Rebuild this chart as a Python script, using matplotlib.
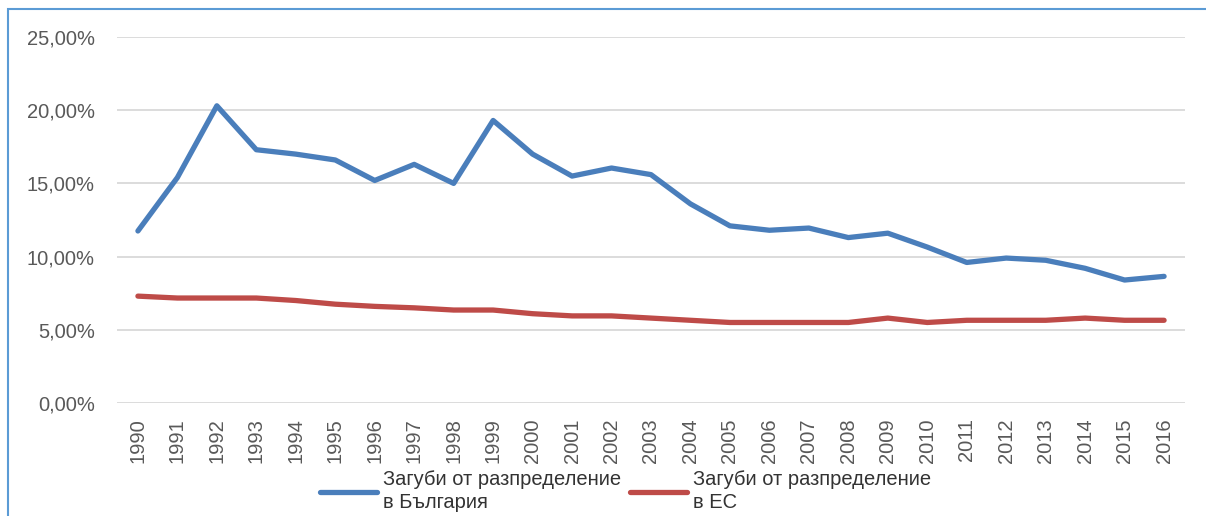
import matplotlib
matplotlib.use("Agg")
import matplotlib.pyplot as plt
from matplotlib.ticker import FuncFormatter
from matplotlib.patches import Rectangle

years = [str(y) for y in range(1990, 2017)]
bulgaria = [11.75, 15.4, 20.3, 17.3, 17.0, 16.6, 15.2, 16.3, 15.0, 19.3, 17.0, 15.5, 16.05,
            15.6, 13.6, 12.1, 11.8, 11.95, 11.3, 11.6, 10.65, 9.6, 9.9, 9.75, 9.2, 8.4, 8.65]
eu = [7.3, 7.17, 7.17, 7.17, 7.0, 6.75, 6.6, 6.5, 6.35, 6.35, 6.1, 5.95, 5.95, 5.8, 5.65,
      5.5, 5.5, 5.5, 5.5, 5.8, 5.5, 5.65, 5.65, 5.65, 5.8, 5.65, 5.65]
labels = ["Загуби от разпределение\nв България", "Загуби от разпределение\nв ЕС"]

plt.rcParams['font.family'] = ['Liberation Sans', 'DejaVu Sans']

fig = plt.figure(figsize=(12.06, 5.16), dpi=100)
ax = fig.add_axes([117/1206, 1-403/516, (1185-117)/1206, (403-37)/516])

x = list(range(len(years)))
ax.plot(x, bulgaria, color='#4A7EBB', lw=3.8, solid_capstyle='round', label=labels[0])
ax.plot(x, eu, color='#BE4B48', lw=3.8, solid_capstyle='round', label=labels[1])

ax.set_xlim(-0.53, len(years) - 0.47)
ax.set_ylim(0, 25)
ax.set_yticks([0, 5, 10, 15, 20, 25])
ax.yaxis.set_major_formatter(FuncFormatter(lambda v, p: f"{v:.2f}%".replace('.', ',')))
ax.set_xticks(x)
ax.set_xticklabels(years, rotation=90)
ax.tick_params(axis='both', length=0, colors='#595959')
ax.tick_params(axis='y', pad=16, labelsize=14.5)
ax.tick_params(axis='x', pad=11, labelsize=14.5)
ax.grid(axis='y', color='#D9D9D9', lw=1.3)
ax.set_axisbelow(True)
for s in ax.spines.values():
    s.set_visible(False)

leg = fig.legend(loc='upper left', bbox_to_anchor=(320/1206, 1-470/516), ncol=2, frameon=False,
                 fontsize=14.5, handlelength=2.85, columnspacing=0.4, handletextpad=0.3,
                 labelspacing=0.2, borderaxespad=0, borderpad=0)
for t in leg.get_texts():
    t.set_color('#333333')
    t.set_linespacing(1.3)

fig.patches.append(Rectangle((8/1206, -0.5), 2.0, 1-9/516+0.5, transform=fig.transFigure,
                             fill=False, edgecolor='#5B9BD5', lw=1.5))

fig.savefig('out.png', dpi=100)
